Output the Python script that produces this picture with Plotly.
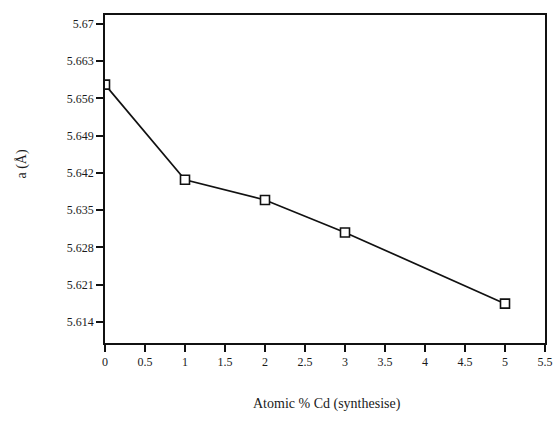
import plotly.graph_objects as go

cd_percent = [0, 1, 2, 3, 5]
lattice_a = [5.6586, 5.6407, 5.6369, 5.6308, 5.6174]

x_tickvals = [0, 0.5, 1, 1.5, 2, 2.5, 3, 3.5, 4, 4.5, 5, 5.5]
x_ticktext = ["0", "0.5", "1", "1.5", "2", "2.5", "3", "3.5", "4", "4.5", "5", "5.5"]
y_tickvals = [5.614, 5.621, 5.628, 5.635, 5.642, 5.649, 5.656, 5.663, 5.67]
y_ticktext = ["5.614", "5.621", "5.628", "5.635", "5.642", "5.649", "5.656", "5.663", "5.67"]

font_family = "Liberation Serif, Times New Roman, serif"

fig = go.Figure()
fig.add_trace(go.Scatter(
    x=cd_percent, y=lattice_a, mode="lines+markers",
    line=dict(color="#111111", width=1.7),
    marker=dict(symbol="square", size=9, color="white", line=dict(width=1.6, color="#111111")),
    showlegend=False,
))

fig.update_layout(
    width=560, height=432,
    margin=dict(l=105, r=7, t=15, b=89),
    paper_bgcolor="white", plot_bgcolor="white",
    font=dict(family=font_family, size=12, color="#1a1a1a"),
    xaxis=dict(
        range=[0, 5.5], tickvals=x_tickvals, ticktext=x_ticktext,
        showgrid=False, zeroline=False, showline=True, linecolor="#111111", linewidth=1.8,
        mirror=True, ticks="outside", ticklen=7, tickwidth=1.5, tickcolor="#111111",
        tickfont=dict(size=12),
    ),
    yaxis=dict(
        range=[5.610, 5.6717], tickvals=y_tickvals, ticktext=y_ticktext,
        showgrid=False, zeroline=False, showline=True, linecolor="#111111", linewidth=1.8,
        mirror=True, ticks="outside", ticklen=7, tickwidth=1.5, tickcolor="#111111",
        tickfont=dict(size=12),
    ),
    annotations=[
        dict(text="Atomic % Cd (synthesise)", xref="paper", yref="paper",
             x=0.505, y=-0.185, xanchor="center", yanchor="middle", showarrow=False,
             font=dict(size=14, family=font_family, color="#1a1a1a")),
        dict(text="a (Å)", xref="paper", yref="paper",
             x=-0.188, y=0.545, xanchor="center", yanchor="middle", showarrow=False,
             textangle=-90, font=dict(size=14, family=font_family, color="#1a1a1a")),
    ],
)

fig.write_html("out.html")
